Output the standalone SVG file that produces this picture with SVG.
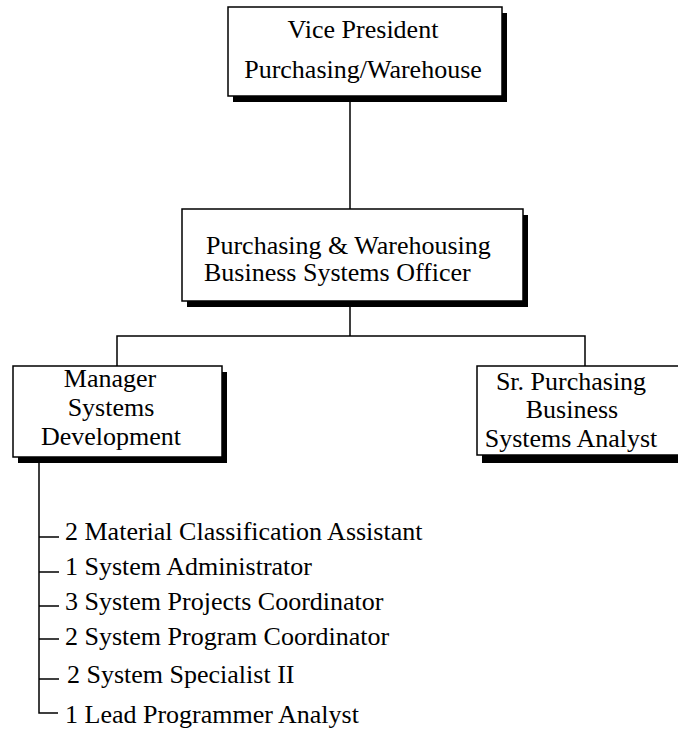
<svg xmlns="http://www.w3.org/2000/svg" width="678" height="731" viewBox="0 0 678 731">
<style>
.box{fill:#fff;stroke:#000;stroke-width:1.5}
.sh{fill:#000}
.t{font-family:"Liberation Serif","Times New Roman",serif;font-size:26px;fill:#000}
.c{text-anchor:middle}
.ln{fill:none;stroke:#000;stroke-width:1.5}
</style>
<rect width="678" height="731" fill="#fff"/>
<g id="connectors">
<path class="ln" d="M350,96 V209"/>
<path class="ln" d="M350,301 V336 M117,366 V336 H585 V366"/>
<path class="ln" d="M39,463 V713 H58"/>
<path class="ln" d="M39,537 H59 M39,572 H59 M39,606 H59 M39,639 H59 M39,679 H59"/>
</g>
<g id="vp">
<rect class="sh" x="233" y="13" width="274" height="89"/>
<rect class="box" x="228" y="7" width="274" height="89"/>
<text class="t c" x="363" y="38">Vice President</text>
<text class="t c" x="363" y="78">Purchasing/Warehouse</text>
</g>
<g id="officer">
<rect class="sh" x="187" y="215" width="341" height="92"/>
<rect class="box" x="182" y="209" width="341" height="92"/>
<text class="t" x="206" y="254">Purchasing &amp; Warehousing</text>
<text class="t" x="204" y="281">Business Systems Officer</text>
</g>
<g id="manager">
<rect class="sh" x="18" y="372" width="209" height="91"/>
<rect class="box" x="13" y="366" width="209" height="91"/>
<text class="t c" x="110" y="387">Manager</text>
<text class="t c" x="111" y="416">Systems</text>
<text class="t c" x="111" y="445">Development</text>
</g>
<g id="analyst">
<rect class="sh" x="482" y="372" width="210" height="91"/>
<rect class="box" x="477" y="366" width="210" height="89"/>
<text class="t c" x="571" y="390">Sr. Purchasing</text>
<text class="t c" x="572" y="418">Business</text>
<text class="t c" x="571" y="447">Systems Analyst</text>
</g>
<g id="staff">
<text class="t" x="65" y="540">2 Material Classification Assistant</text>
<text class="t" x="65" y="575">1 System Administrator</text>
<text class="t" x="65" y="610">3 System Projects Coordinator</text>
<text class="t" x="65" y="645">2 System Program Coordinator</text>
<text class="t" x="67" y="683">2 System Specialist II</text>
<text class="t" x="65" y="723">1 Lead Programmer Analyst</text>
</g>
</svg>
